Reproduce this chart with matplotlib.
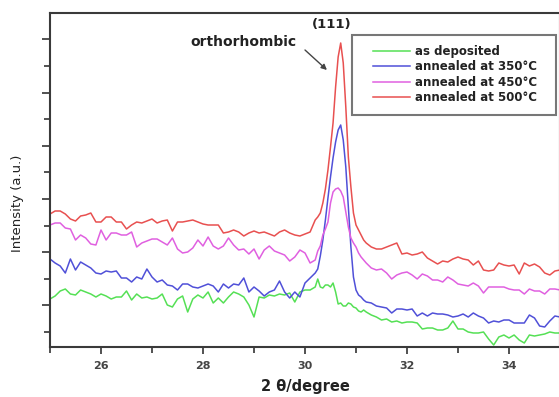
import numpy as np
import matplotlib
matplotlib.use("Agg")
import matplotlib.pyplot as plt
from matplotlib.ticker import FixedLocator, NullFormatter
from matplotlib.patches import Rectangle

plt.rcParams['font.family'] = ['DejaVu Sans']

# 2-theta sampling grid (finer around the (111) peak)
two_theta = np.round(np.concatenate([
    np.arange(25.0, 30.12, 0.1),
    np.arange(30.2, 31.22, 0.05),
    np.arange(31.3, 35.02, 0.1),
]), 2)

# Intensities (a.u.)
as_deposited = [
    48, 51, 56, 58, 53, 52, 57, 55, 53, 50,
    53, 51, 48, 50, 50, 56, 47, 53, 49, 50,
    48, 49, 53, 42, 40, 48, 51, 35, 48, 52,
    49, 55, 44, 49, 44, 50, 55, 53, 50, 42,
    30, 50, 49, 52, 51, 53, 52, 54, 45, 55,
    57, 57,
    60, 68, 60, 59, 62, 62, 60, 64, 55, 43, 44, 41, 41, 44, 43, 40, 39, 36, 35, 37, 35,
    32, 30, 27, 28, 25, 26, 24, 25, 25, 24, 18, 19, 19, 17, 17, 19, 26, 18,
    18, 15, 14, 14, 15, 8, 2, 10, 12, 9, 12, 7, 4, 12, 11, 12, 13, 15, 14, 14,
]
annealed_350 = [
    88, 84, 81, 74, 88, 77, 85, 82, 79, 74,
    73, 76, 75, 76, 69, 69, 65, 70, 68, 78,
    70, 65, 67, 62, 61, 57, 63, 63, 60, 59,
    61, 63, 61, 55, 63, 59, 63, 62, 69, 55,
    60, 56, 51, 55, 57, 66, 55, 49, 55, 50,
    64, 69,
    74, 78, 91, 107, 127, 149, 170, 189, 205, 217, 222, 207, 180, 140, 100, 70, 57, 52, 50, 47, 45,
    44, 41, 40, 39, 34, 38, 38, 37, 38, 31, 34, 31, 34, 33, 33, 32, 30, 31,
    33, 30, 34, 31, 29, 24, 26, 25, 27, 27, 24, 24, 24, 32, 29, 21, 20, 26, 31, 30,
]
annealed_450 = [
    122, 124, 124, 119, 118, 107, 112, 109, 103, 102,
    117, 107, 114, 114, 112, 112, 115, 100, 104, 106,
    108, 108, 105, 102, 109, 98, 94, 95, 99, 107,
    101, 110, 101, 98, 101, 109, 102, 97, 98, 93,
    98, 88, 97, 101, 96, 94, 92, 86, 90, 97,
    94, 84,
    87, 96, 101, 112, 118, 125, 144, 155, 158, 159, 156, 150, 135, 120, 109, 104, 100, 94, 90, 87, 84,
    79, 77, 78, 74, 68, 72, 74, 75, 72, 68, 73, 71, 67, 67, 65, 70, 67, 63,
    62, 61, 64, 61, 54, 60, 60, 60, 60, 58, 57, 57, 53, 58, 56, 56, 53, 58, 58, 57,
]
annealed_500 = [
    133, 136, 136, 133, 128, 126, 131, 132, 134, 125,
    125, 130, 130, 125, 125, 118, 122, 125, 124, 126,
    128, 124, 126, 127, 116, 125, 125, 126, 127, 125,
    123, 122, 122, 122, 114, 115, 117, 115, 111, 114,
    116, 114, 115, 113, 111, 115, 117, 114, 112, 111,
    113, 115,
    127, 130, 134, 144, 158, 177, 200, 224, 260, 290, 304, 284, 240, 190, 160, 134, 122, 117, 112, 107, 104,
    100, 98, 98, 100, 102, 104, 93, 94, 92, 93, 95, 89, 86, 83, 86, 85, 88, 90,
    88, 87, 82, 86, 77, 76, 77, 84, 82, 81, 82, 73, 84, 81, 83, 80, 74, 72, 76, 77,
]

labels = ["as deposited", "annealed at 350\u00b0C", "annealed at 450\u00b0C", "annealed at 500\u00b0C"]
series = [as_deposited, annealed_350, annealed_450, annealed_500]
colors = ["#55e055", "#5050d8", "#e060e0", "#e85050"]

x_major = [26, 28, 30, 32, 34]
x_minor = [25, 27, 29, 31, 33, 35]

W, H = 559, 397
fig = plt.figure(figsize=(W / 100, H / 100), dpi=100)
ax = fig.add_axes([50 / W, 50 / H, 510 / W, 334 / H])

for y, c, lab in zip(series, colors, labels):
    ax.plot(two_theta, y, color=c, lw=1.1, label=lab)

ax.set_xlim(25, 35)
ax.set_ylim(0, 334)

ax.xaxis.set_major_locator(FixedLocator(x_major))
ax.xaxis.set_minor_locator(FixedLocator(x_minor))
ax.yaxis.set_major_locator(FixedLocator(np.arange(41.6, 334, 53.2)))
ax.yaxis.set_minor_locator(FixedLocator(np.arange(15, 334, 53.2)))
ax.yaxis.set_major_formatter(NullFormatter())

ax.tick_params(axis='x', which='major', direction='out', length=5, width=1.2,
               colors='#333333', labelsize=8, pad=5)
ax.tick_params(axis='x', which='minor', direction='out', length=4, width=1.2, colors='#333333')
ax.tick_params(axis='y', which='major', direction='out', length=6, width=1.2, colors='#333333')
ax.tick_params(axis='y', which='minor', direction='out', length=4, width=1.2, colors='#333333')
for lbl in ax.get_xticklabels():
    lbl.set_fontweight('bold')
    lbl.set_color('#444444')

for s in ax.spines.values():
    s.set_color('#3a3a3a')
    s.set_linewidth(1.5)

ax.set_xlabel("2 \u03b8/degree", fontsize=10.5, fontweight='bold', color='#222222', labelpad=6)
fig.text(18 / W, 1 - 203 / H, "Intensity (a.u.)", rotation=90, fontsize=9.5,
         color='#222222', ha='center', va='center')

ax.text(30.53, 322, "(111)", fontsize=9.5, fontweight='bold', ha='center', va='center', color='#222222')
ax.text(28.80, 305, "orthorhombic", fontsize=10, fontweight='bold', ha='center', va='center', color='#222222')
ax.annotate("", xy=(30.43, 277), xytext=(30.0, 297),
            arrowprops=dict(arrowstyle='-|>', color='#444444', lw=1.0,
                            mutation_scale=8, shrinkA=0, shrinkB=0))

frame = Rectangle((352 / W, 1 - 115 / H), 204 / W, 80 / H, transform=fig.transFigure,
                  facecolor='white', edgecolor='#777777', lw=1.5, zorder=4, clip_on=False)
ax.add_patch(frame)
leg = ax.legend(loc='upper left', bbox_to_anchor=(373 / W, 1 - 45 / H),
                bbox_transform=fig.transFigure, borderaxespad=0, frameon=False,
                prop={'weight': 'bold', 'size': 8.5},
                handlelength=3.1, handletextpad=0.42, borderpad=0, labelspacing=0.2)
leg.set_zorder(5)
for t in leg.get_texts():
    t.set_color('#222222')

fig.savefig("out.png", dpi=100)
